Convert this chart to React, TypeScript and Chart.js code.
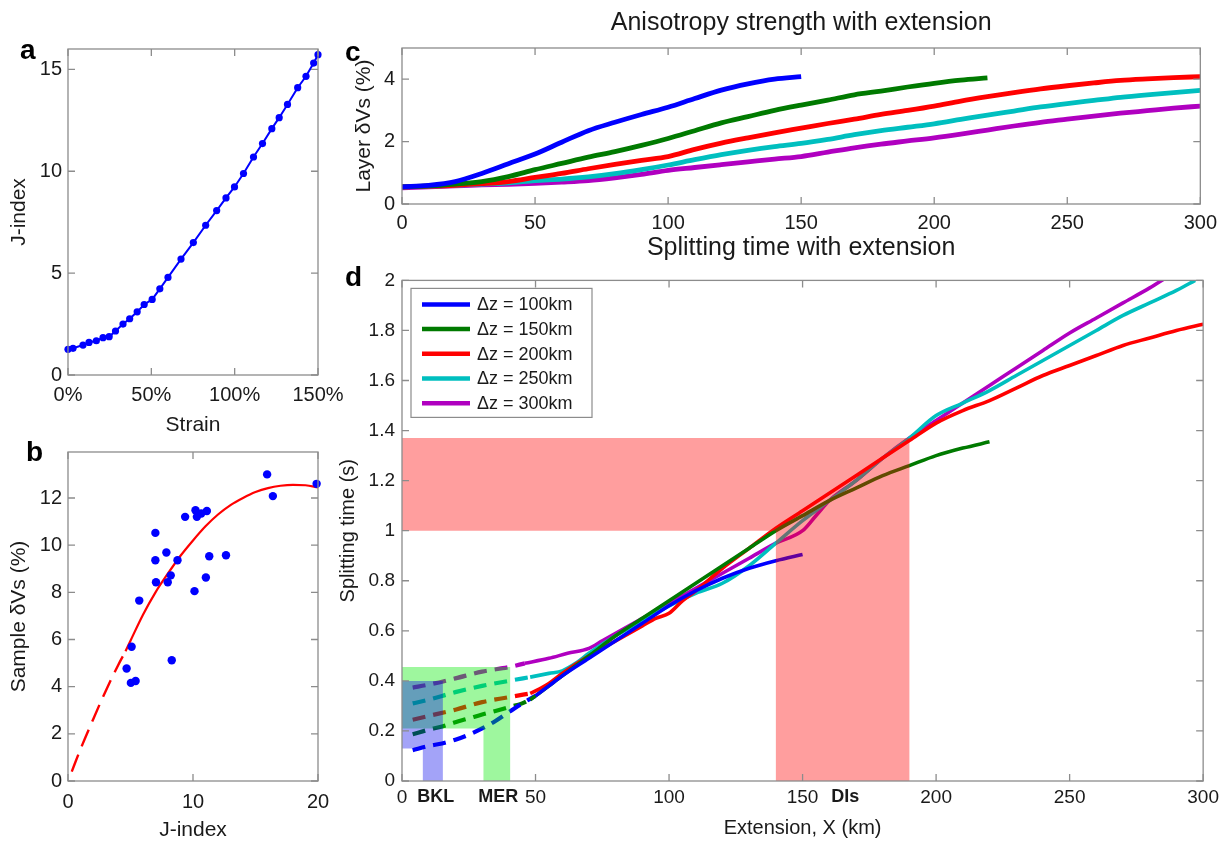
import React, { useEffect, useRef } from 'react';
import { Chart, registerables } from 'chart.js';

Chart.register(...registerables);

const FONT = "'Liberation Sans', Arial, Helvetica, sans-serif";
const TXT = '#1a1a1a';
const FRAME = '#8c8c8c';

// ---------- Panel a: J-index vs strain ----------
const aStrainPct = [0, 3, 9, 12.6, 17, 21, 24.7, 28.5, 33, 37, 41.5, 45.7, 50.5, 55.1, 60, 67.8, 75.2, 82.6, 89.2, 94.8, 99.9, 105.3, 111.3, 116.7, 122.3, 126.7, 131.7, 137.8, 142.8, 147.4, 150];
const aJIndex = [1.26, 1.31, 1.47, 1.6, 1.68, 1.83, 1.88, 2.16, 2.5, 2.76, 3.1, 3.46, 3.71, 4.23, 4.79, 5.69, 6.5, 7.35, 8.07, 8.69, 9.23, 9.89, 10.7, 11.36, 12.09, 12.63, 13.28, 14.1, 14.66, 15.31, 15.72];

// ---------- Panel b: sample dVs vs J-index ----------
const bJIndex = [4.69, 5.09, 5.03, 5.41, 5.7, 6.99, 6.99, 7.04, 7.87, 7.98, 8.22, 8.3, 8.76, 9.37, 10.12, 10.2, 10.31, 10.66, 11.11, 11.03, 11.3, 12.64, 15.93, 16.39, 19.89];
const bSampleVs = [4.77, 5.69, 4.16, 4.24, 7.65, 10.52, 9.36, 8.43, 9.69, 8.43, 8.72, 5.12, 9.36, 11.2, 8.05, 11.48, 11.2, 11.34, 11.45, 8.63, 9.53, 9.57, 13.0, 12.08, 12.6];
const bFitDashX = [0.3, 1, 2, 3, 4, 4.6];
const bFitDashY = [0.4, 1.35, 2.6, 3.8, 4.9, 5.5];
const bFitX = [4.6, 5, 6, 7, 8, 9, 10, 11, 12, 13, 14, 15, 16, 17, 18, 19, 20];
const bFitY = [5.5, 5.95, 7.05, 8.0, 8.8, 9.55, 10.2, 10.8, 11.3, 11.7, 12.0, 12.25, 12.42, 12.52, 12.56, 12.54, 12.45];

// ---------- Panel c: layer dVs vs extension ----------
const cX150 = [0, 10, 20, 30, 40, 50, 60, 70, 80, 90, 100, 110, 120, 130, 140, 150];
const cX220 = [0, 10, 20, 30, 40, 50, 60, 70, 80, 90, 100, 110, 120, 130, 140, 150, 160, 170, 180, 190, 200, 210, 220];
const cX300 = [0, 10, 20, 30, 40, 50, 60, 70, 80, 90, 100, 110, 120, 130, 140, 150, 160, 170, 180, 190, 200, 210, 220, 230, 240, 250, 260, 270, 280, 290, 300];
const cBlue = [0.55, 0.6, 0.72, 0.98, 1.29, 1.6, 1.98, 2.35, 2.62, 2.87, 3.1, 3.38, 3.65, 3.85, 4.0, 4.08];
const cGreen = [0.55, 0.58, 0.64, 0.72, 0.88, 1.1, 1.3, 1.5, 1.68, 1.88, 2.1, 2.35, 2.6, 2.8, 3.0, 3.17, 3.33, 3.5, 3.62, 3.75, 3.87, 3.97, 4.04];
const cRed = [0.55, 0.57, 0.6, 0.65, 0.72, 0.85, 0.98, 1.13, 1.27, 1.4, 1.52, 1.75, 1.95, 2.12, 2.28, 2.43, 2.58, 2.72, 2.87, 3.0, 3.14, 3.3, 3.44, 3.57, 3.69, 3.79, 3.88, 3.96, 4.01, 4.05, 4.08];
const cCyan = [0.55, 0.57, 0.6, 0.64, 0.68, 0.75, 0.8, 0.87, 0.97, 1.1, 1.25, 1.42, 1.58, 1.72, 1.84, 1.94, 2.07, 2.22, 2.35, 2.46, 2.57, 2.71, 2.85, 2.98, 3.11, 3.22, 3.32, 3.42, 3.5, 3.57, 3.64];
const cPurple = [0.52, 0.55, 0.58, 0.61, 0.63, 0.66, 0.7, 0.75, 0.84, 0.95, 1.08, 1.17, 1.26, 1.35, 1.44, 1.52, 1.66, 1.8, 1.92, 2.02, 2.12, 2.24, 2.37, 2.5, 2.62, 2.72, 2.82, 2.91, 2.99, 3.07, 3.14];

// ---------- Panel d: splitting time vs extension ----------
const dBlueX = [50, 55, 60, 70, 80, 90, 100, 110, 120, 130, 140, 150];
const dBlueY = [0.34, 0.38, 0.42, 0.49, 0.56, 0.63, 0.7, 0.76, 0.81, 0.85, 0.88, 0.905];
const dGreenX = [48, 50, 60, 70, 80, 90, 100, 110, 120, 130, 140, 150, 160, 170, 180, 190, 200, 210, 220];
const dGreenY = [0.325, 0.34, 0.42, 0.5, 0.58, 0.65, 0.72, 0.79, 0.86, 0.93, 1.0, 1.06, 1.12, 1.17, 1.22, 1.26, 1.3, 1.33, 1.355];
const dRedX = [48, 50, 55, 60, 70, 80, 90, 95, 100, 105, 110, 120, 130, 140, 150, 160, 170, 180, 190, 200, 210, 220, 230, 240, 250, 260, 270, 280, 290, 300];
const dRedY = [0.35, 0.36, 0.39, 0.43, 0.5, 0.56, 0.62, 0.65, 0.67, 0.72, 0.76, 0.85, 0.93, 1.01, 1.08, 1.15, 1.22, 1.29, 1.36, 1.43, 1.48, 1.52, 1.57, 1.62, 1.66, 1.7, 1.74, 1.77, 1.8, 1.825];
const dCyanX = [48, 55, 60, 65, 70, 80, 90, 100, 110, 120, 130, 140, 150, 160, 170, 180, 190, 200, 210, 220, 230, 240, 250, 260, 270, 280, 290, 297];
const dCyanY = [0.415, 0.43, 0.44, 0.47, 0.51, 0.58, 0.64, 0.7, 0.75, 0.79, 0.86, 0.95, 1.04, 1.12, 1.2, 1.29, 1.37, 1.46, 1.51, 1.56, 1.62, 1.68, 1.74, 1.8, 1.86, 1.91, 1.96, 2.0];
const dPurpleX = [46, 55, 62, 70, 75, 80, 90, 100, 110, 120, 130, 140, 150, 155, 160, 170, 180, 190, 200, 210, 220, 230, 240, 250, 260, 270, 280, 286];
const dPurpleY = [0.47, 0.49, 0.51, 0.53, 0.56, 0.59, 0.65, 0.71, 0.77, 0.83, 0.89, 0.95, 1.0, 1.06, 1.12, 1.2, 1.29, 1.37, 1.44, 1.51, 1.58, 1.65, 1.72, 1.79, 1.85, 1.91, 1.97, 2.01];

const dBlueDashX = [4, 10, 15, 20, 25, 30, 35, 40, 45, 50];
const dBlueDashY = [0.123, 0.14, 0.15, 0.165, 0.185, 0.21, 0.24, 0.275, 0.31, 0.34];
const dGreenDashX = [4, 10, 15, 20, 25, 30, 35, 40, 45, 48];
const dGreenDashY = [0.187, 0.205, 0.218, 0.235, 0.25, 0.266, 0.28, 0.295, 0.31, 0.325];
const dRedDashX = [4, 10, 20, 30, 40, 48];
const dRedDashY = [0.245, 0.26, 0.285, 0.315, 0.335, 0.35];
const dCyanDashX = [4, 10, 20, 30, 40, 48];
const dCyanDashY = [0.31, 0.325, 0.355, 0.38, 0.4, 0.415];
const dPurpleDashX = [4, 10, 20, 30, 40, 46];
const dPurpleDashY = [0.373, 0.385, 0.41, 0.437, 0.455, 0.47];

const legendLabels = ['Δz = 100km', 'Δz = 150km', 'Δz = 200km', 'Δz = 250km', 'Δz = 300km'];
const seriesColors = ['#0000ff', '#007a00', '#ff0000', '#00bfbf', '#b000c0'];

// shaded regions [x, y] vertices
const dislRegion = [[0, 1.0], [140, 1.0], [140, 0], [190, 0], [190, 1.37], [0, 1.37]];
const merRegion = [[0, 0.21], [30.5, 0.21], [30.5, 0], [40.5, 0], [40.5, 0.455], [0, 0.455]];
const bklRegion = [[0, 0.13], [7.8, 0.13], [7.8, 0], [15.3, 0], [15.3, 0.4], [0, 0.4]];
const regionLabels = ['BKL', 'MER', 'DIs'];
const regionLabelX = [12.6, 36, 166];

const pts = (xs: number[], ys: number[]) => xs.map((x, i) => ({ x, y: ys[i] }));

Chart.defaults.font.family = FONT;
Chart.defaults.color = TXT;

const framePlugin = {
  id: 'matlabFrame',
  afterDraw(chart: any) {
    const { ctx, chartArea } = chart;
    const { left, right, top, bottom } = chartArea;
    const xs = chart.scales.x;
    const ys = chart.scales.y;
    ctx.save();
    ctx.strokeStyle = FRAME;
    ctx.lineWidth = 1.3;
    ctx.strokeRect(left, top, right - left, bottom - top);
    const L = 7;
    ctx.beginPath();
    xs.ticks.forEach((t: any) => {
      const px = xs.getPixelForValue(t.value);
      ctx.moveTo(px, bottom);
      ctx.lineTo(px, bottom - L);
      ctx.moveTo(px, top);
      ctx.lineTo(px, top + L);
    });
    ys.ticks.forEach((t: any) => {
      const py = ys.getPixelForValue(t.value);
      ctx.moveTo(left, py);
      ctx.lineTo(left + L, py);
      ctx.moveTo(right, py);
      ctx.lineTo(right - L, py);
    });
    ctx.stroke();
    ctx.restore();
  },
};

const regionPlugin = {
  id: 'regions',
  afterDatasetsDraw(chart: any) {
    const { ctx } = chart;
    const xs = chart.scales.x;
    const ys = chart.scales.y;
    const fillPoly = (poly: number[][], color: string) => {
      ctx.beginPath();
      poly.forEach(([x, y], i) => {
        const px = xs.getPixelForValue(x);
        const py = ys.getPixelForValue(y);
        if (i === 0) ctx.moveTo(px, py);
        else ctx.lineTo(px, py);
      });
      ctx.closePath();
      ctx.fillStyle = color;
      ctx.fill();
    };
    ctx.save();
    fillPoly(dislRegion, 'rgba(255,0,0,0.38)');
    fillPoly(merRegion, 'rgba(0,235,0,0.38)');
    fillPoly(bklRegion, 'rgba(0,0,235,0.36)');
    ctx.restore();
  },
  afterDraw(chart: any) {
    const { ctx, chartArea } = chart;
    const xs = chart.scales.x;
    ctx.save();
    ctx.font = `bold 18px ${FONT}`;
    ctx.fillStyle = TXT;
    ctx.textAlign = 'center';
    ctx.textBaseline = 'middle';
    regionLabels.forEach((t, i) => {
      ctx.fillText(t, xs.getPixelForValue(regionLabelX[i]), chartArea.bottom + 16);
    });
    const bx = chartArea.left + 9;
    const by = chartArea.top + 8;
    const bw = 181;
    const bh = 129;
    ctx.fillStyle = '#ffffff';
    ctx.fillRect(bx, by, bw, bh);
    ctx.strokeStyle = FRAME;
    ctx.lineWidth = 1.2;
    ctx.strokeRect(bx, by, bw, bh);
    ctx.font = `18px ${FONT}`;
    ctx.textAlign = 'left';
    legendLabels.forEach((lab, i) => {
      const y = by + 16 + i * 24.7;
      ctx.strokeStyle = seriesColors[i];
      ctx.lineWidth = 4.5;
      ctx.beginPath();
      ctx.moveTo(bx + 11, y);
      ctx.lineTo(bx + 59, y);
      ctx.stroke();
      ctx.fillStyle = TXT;
      ctx.fillText(lab, bx + 66, y + 1);
    });
    ctx.restore();
  },
};

const hidden = { display: false, drawTicks: false };

function makeA(): any {
  return {
    type: 'scatter',
    data: {
      datasets: [
        {
          data: pts(aStrainPct, aJIndex),
          showLine: true,
          borderColor: '#0000ff',
          backgroundColor: '#0000ff',
          borderWidth: 2,
          pointRadius: 3.6,
          pointBorderWidth: 0,
          clip: false,
        },
      ],
    },
    options: {
      responsive: false,
      animation: false,
      events: [],
      layout: { padding: { left: 0, top: 49, right: 42, bottom: 0 } },
      plugins: { legend: { display: false }, tooltip: { enabled: false } },
      scales: {
        x: {
          type: 'linear', min: 0, max: 150,
          afterFit: (s: any) => { s.height = 65; },
          grid: hidden, border: { display: false },
          ticks: { stepSize: 50, padding: 8, font: { size: 20 }, maxRotation: 0, callback: (v: any) => `${v}%` },
          title: { display: true, text: 'Strain', font: { size: 21 }, padding: { top: 0, bottom: 2 } },
        },
        y: {
          type: 'linear', min: 0, max: 16,
          afterFit: (s: any) => { s.width = 68; },
          grid: hidden, border: { display: false },
          ticks: { stepSize: 5, includeBounds: false, padding: 6, font: { size: 20 } },
          title: { display: true, text: 'J-index', font: { size: 21 }, padding: { top: 7, bottom: 0 } },
        },
      },
    },
    plugins: [framePlugin],
  };
}

function makeB(): any {
  return {
    type: 'scatter',
    data: {
      datasets: [
        {
          data: pts(bJIndex, bSampleVs),
          backgroundColor: '#0000ff',
          borderColor: '#0000ff',
          pointRadius: 4.2,
          pointBorderWidth: 0,
          clip: false,
        },
        {
          data: pts(bFitX, bFitY),
          showLine: true,
          borderColor: '#ff0000',
          borderWidth: 2.2,
          pointRadius: 0,
          cubicInterpolationMode: 'monotone',
        },
        {
          data: pts(bFitDashX, bFitDashY),
          showLine: true,
          borderColor: '#ff0000',
          borderWidth: 2.4,
          borderDash: [18, 9],
          pointRadius: 0,
          cubicInterpolationMode: 'monotone',
        },
      ],
    },
    options: {
      responsive: false,
      animation: false,
      events: [],
      layout: { padding: { left: 0, top: 22, right: 42, bottom: 0 } },
      plugins: { legend: { display: false }, tooltip: { enabled: false } },
      scales: {
        x: {
          type: 'linear', min: 0, max: 20,
          afterFit: (s: any) => { s.height = 63; },
          grid: hidden, border: { display: false },
          ticks: { stepSize: 10, padding: 9, font: { size: 20 }, maxRotation: 0 },
          title: { display: true, text: 'J-index', font: { size: 21 }, padding: { top: 0, bottom: 1 } },
        },
        y: {
          type: 'linear', min: 0, max: 13.95,
          afterFit: (s: any) => { s.width = 68; },
          grid: hidden, border: { display: false },
          ticks: { stepSize: 2, includeBounds: false, padding: 6, font: { size: 20 } },
          title: { display: true, text: 'Sample δVs (%)', font: { size: 21 }, padding: { top: 7, bottom: 0 } },
        },
      },
    },
    plugins: [framePlugin],
  };
}

function makeC(): any {
  const series = [
    [cX150, cBlue],
    [cX220, cGreen],
    [cX300, cRed],
    [cX300, cCyan],
    [cX300, cPurple],
  ];
  return {
    type: 'scatter',
    data: {
      datasets: series.map(([xs, ys], i) => ({
        data: pts(xs, ys),
        showLine: true,
        borderColor: seriesColors[i],
        borderWidth: 4.8,
        pointRadius: 0,
        cubicInterpolationMode: 'monotone',
      })),
    },
    options: {
      responsive: false,
      animation: false,
      events: [],
      layout: { padding: { left: 0, top: 0, right: 19, bottom: 0 } },
      plugins: {
        legend: { display: false },
        tooltip: { enabled: false },
        title: {
          display: true,
          fullSize: false,
          text: 'Anisotropy strength with extension',
          font: { size: 25, weight: 'normal' },
          color: TXT,
          padding: { top: 8, bottom: 10 },
        },
      },
      scales: {
        x: {
          type: 'linear', min: 0, max: 300,
          afterFit: (s: any) => { s.height = 66; },
          grid: hidden, border: { display: false },
          ticks: { stepSize: 50, padding: 7, font: { size: 20 }, maxRotation: 0 },
          title: { display: true, text: 'Splitting time with extension', font: { size: 25 }, padding: { top: 0, bottom: 7 } },
        },
        y: {
          type: 'linear', min: 0, max: 5,
          afterFit: (s: any) => { s.width = 72; },
          grid: hidden, border: { display: false },
          ticks: { stepSize: 2, includeBounds: false, padding: 7, font: { size: 20 } },
          title: { display: true, text: 'Layer δVs (%)', font: { size: 21 }, padding: { top: 22, bottom: 0 } },
        },
      },
    },
    plugins: [framePlugin],
  };
}

function makeD(): any {
  const solid = [
    [dBlueX, dBlueY],
    [dGreenX, dGreenY],
    [dRedX, dRedY],
    [dCyanX, dCyanY],
    [dPurpleX, dPurpleY],
  ];
  const dashed = [
    [dBlueDashX, dBlueDashY],
    [dGreenDashX, dGreenDashY],
    [dRedDashX, dRedDashY],
    [dCyanDashX, dCyanDashY],
    [dPurpleDashX, dPurpleDashY],
  ];
  const datasets: any[] = [];
  solid.forEach(([xs, ys], i) => {
    datasets.push({
      label: legendLabels[i],
      data: pts(xs, ys),
      showLine: true,
      borderColor: seriesColors[i],
      borderWidth: 3.6,
      pointRadius: 0,
      clip: 0,
      cubicInterpolationMode: 'monotone',
    });
  });
  dashed.forEach(([xs, ys], i) => {
    datasets.push({
      data: pts(xs, ys),
      showLine: true,
      borderColor: seriesColors[i],
      borderWidth: 4.2,
      borderDash: [13, 8],
      pointRadius: 0,
      clip: 0,
      cubicInterpolationMode: 'monotone',
    });
  });
  return {
    type: 'scatter',
    data: { datasets },
    options: {
      responsive: false,
      animation: false,
      events: [],
      layout: { padding: { left: 0, top: 15, right: 19, bottom: 0 } },
      plugins: { legend: { display: false }, tooltip: { enabled: false } },
      scales: {
        x: {
          type: 'linear', min: 0, max: 300,
          afterFit: (s: any) => { s.height = 63; },
          grid: hidden, border: { display: false },
          ticks: { stepSize: 50, padding: 5, font: { size: 19 }, maxRotation: 0 },
          title: { display: true, text: 'Extension, X (km)', font: { size: 20 }, padding: { top: 0, bottom: 4 } },
        },
        y: {
          type: 'linear', min: 0, max: 2,
          afterFit: (s: any) => { s.width = 72; },
          grid: hidden, border: { display: false },
          ticks: { stepSize: 0.2, padding: 7, font: { size: 19 }, callback: (v: any) => String(Number(Number(v).toFixed(1))) },
          title: { display: true, text: 'Splitting time (s)', font: { size: 20 }, padding: { top: 6, bottom: 0 } },
        },
      },
    },
    plugins: [regionPlugin, framePlugin],
  };
}

function Panel(props: { left: number; top: number; width: number; height: number; make: () => any }) {
  const { left, top, width, height, make } = props;
  const ref = useRef<HTMLCanvasElement>(null);
  useEffect(() => {
    const chart = new Chart(ref.current as HTMLCanvasElement, make());
    return () => chart.destroy();
  }, []);
  return (
    <div style={{ position: 'absolute', left, top, width, height }}>
      <canvas ref={ref} width={width} height={height} style={{ width, height, display: 'block' }} />
    </div>
  );
}

const letterStyle = (left: number, top: number): React.CSSProperties => ({
  position: 'absolute',
  left,
  top,
  fontFamily: FONT,
  fontWeight: 'bold',
  fontSize: 28,
  lineHeight: '28px',
  color: '#000',
});

export default function App() {
  return (
    <div style={{ position: 'absolute', left: 0, top: 0, width: 1224, height: 844, background: '#fff', overflow: 'hidden' }}>
      <Panel left={0} top={0} width={360} height={440} make={makeA} />
      <Panel left={0} top={430} width={360} height={414} make={makeB} />
      <Panel left={330} top={0} width={894} height={270} make={makeC} />
      <Panel left={330} top={262} width={894} height={582} make={makeD} />
      <div style={letterStyle(20, 36)}>a</div>
      <div style={letterStyle(26, 438)}>b</div>
      <div style={letterStyle(345, 38)}>c</div>
      <div style={letterStyle(345, 263)}>d</div>
    </div>
  );
}
